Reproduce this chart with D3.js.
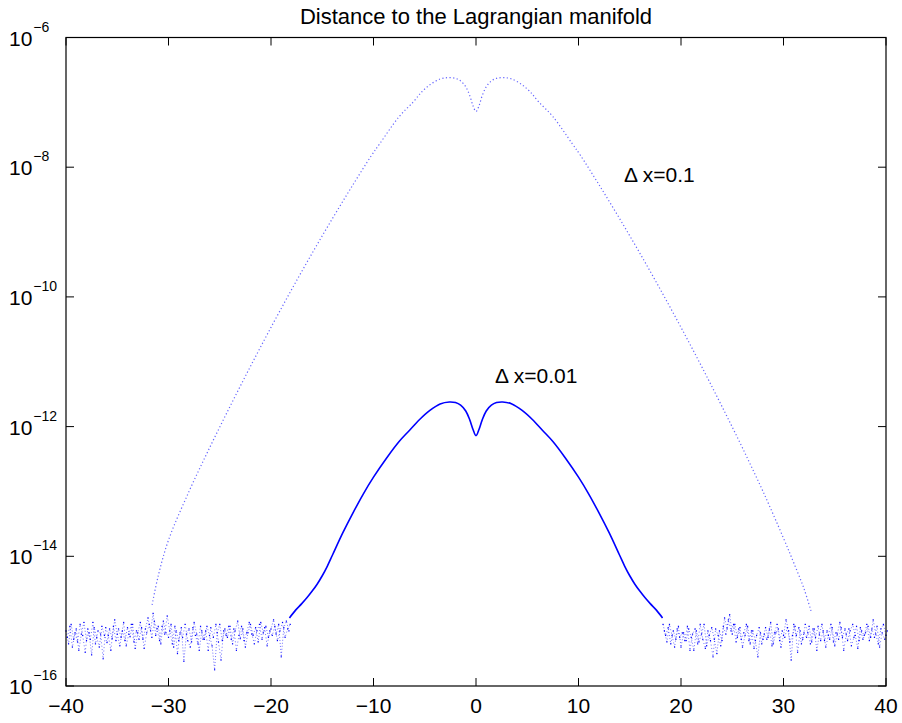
<!DOCTYPE html>
<html>
<head>
	<meta charset="utf-8">
	<title>Distance to the Lagrangian manifold</title>
	<script src="https://d3js.org/d3.v7.min.js"></script>
	<style>
		body { margin: 0; background: #fff; }
		text { font-family: 'Liberation Sans', Arial, sans-serif; fill: #000; }
	</style>
</head>
<body>
	<div class="chart"></div>

	<script type="text/javascript">
		// values are log10 of the distance
		const upperX = [-31.6, -31, -30, -28, -26, -24, -22, -20, -18, -16, -14, -12, -10.2, -9.4, -7.5, -6.1, -5.3, -4.5, -3.5, -2.8, -2, -1.5, -1, -0.6, -0.3, 0,
			0.3, 0.6, 1, 1.5, 2, 2.8, 3.5, 4.5, 5.3, 6.1, 7.5, 9.4, 10.2, 12, 14, 16, 18, 20, 22, 24, 26, 28, 30, 31, 32, 32.7]
		const upperLog = [-14.75, -14.3, -13.75, -13.0, -12.33, -11.69, -11.07, -10.47, -9.89, -9.33, -8.79, -8.27, -7.82, -7.64, -7.22, -6.99, -6.84, -6.73, -6.64, -6.62, -6.63, -6.67, -6.76, -6.9, -7.05, -7.14,
			-7.05, -6.9, -6.76, -6.67, -6.63, -6.62, -6.64, -6.73, -6.84, -6.99, -7.22, -7.64, -7.82, -8.27, -8.79, -9.33, -9.89, -10.47, -11.07, -11.69, -12.33, -13.0, -13.72, -14.1, -14.5, -14.85]

		const lowerX = [-18.2, -17.6, -17, -16.5, -16, -15.5, -15, -14.5, -14, -13, -12, -11, -10, -8.7, -7.5, -6.5, -5.5, -4.5, -3.5, -2.6, -2, -1.5, -1, -0.6, -0.3, 0,
			0.3, 0.6, 1, 1.5, 2, 2.6, 3.5, 4.5, 5.5, 6.5, 7.5, 8.7, 10, 11, 12, 13, 14, 14.5, 15, 15.5, 16, 16.5, 17, 17.6, 18.2]
		const lowerLog = [-14.95, -14.83, -14.73, -14.64, -14.54, -14.43, -14.3, -14.15, -13.98, -13.64, -13.33, -13.04, -12.78, -12.48, -12.23, -12.06, -11.89, -11.75, -11.65, -11.62, -11.63, -11.67, -11.76, -11.9, -12.04, -12.14,
			-12.04, -11.9, -11.76, -11.67, -11.63, -11.62, -11.65, -11.75, -11.89, -12.06, -12.23, -12.48, -12.78, -13.04, -13.33, -13.64, -13.98, -14.15, -14.3, -14.43, -14.54, -14.64, -14.73, -14.83, -14.95]

		// round-off noise floor, two interleaved samples every 0.25 in x
		const noiseStep = 0.25
		const noiseLeftStartA = -40
		const noiseLeftA = [
			-15.15, -15.35, -15.05, -15.28, -15.12, -15.45, -15.20, -15.02,
			-15.30, -15.18, -15.52, -15.10, -15.25, -15.40, -15.08, -15.22,
			-15.33, -15.12, -15.27, -14.98, -15.20, -15.38, -15.15, -15.30,
			-15.10, -15.24, -15.05, -15.42, -15.18, -15.02, -15.28, -15.12,
			-14.95, -15.15, -14.88, -15.22, -15.08, -15.35, -15.00, -15.18,
			-15.25, -15.05, -15.40, -15.15, -15.30, -15.10, -15.62, -15.20,
			-15.12, -15.32, -15.02, -15.20, -15.45, -15.15, -15.28, -15.08,
			-15.22, -15.38, -15.75, -15.18, -15.05, -15.30, -15.12, -15.25,
			-15.08, -15.35, -15.15, -15.00, -15.27, -15.12, -15.40, -15.18,
			-15.05, -15.22, -15.10, -15.32, -15.02, -15.18, -15.08, -15.25,
			-15.12, -14.98, -15.20, -15.05, -15.55, -15.10, -15.00, -15.15]
		const noiseLeftStartB = -39.875
		const noiseLeftB = [
			-15.25, -15.08, -15.40, -15.18, -15.32, -15.05, -15.22, -15.48,
			-15.12, -15.28, -15.02, -15.35, -15.15, -15.20, -15.58, -15.10,
			-15.22, -15.45, -15.08, -15.30, -15.12, -15.25, -15.02, -15.38,
			-15.20, -15.05, -15.32, -15.15, -15.28, -15.10, -15.42, -15.18,
			-15.05, -15.25, -15.00, -15.12, -15.30, -15.08, -15.20, -14.92,
			-15.15, -15.35, -15.08, -15.50, -15.18, -15.25, -15.05, -15.30,
			-15.40, -15.10, -15.22, -15.35, -15.08, -15.28, -15.15, -15.45,
			-15.10, -15.25, -15.05, -15.32, -15.60, -15.15, -15.22, -15.08,
			-15.28, -15.12, -15.45, -15.22, -15.08, -15.30, -15.18, -15.02,
			-15.20, -15.35, -15.15, -15.05, -15.28, -15.10, -15.38, -15.15,
			-15.22, -15.08, -15.30, -15.15, -15.02, -15.25, -15.12, -15.05]
		const noiseRightStartA = 18.25
		const noiseRightA = [
			-15.05, -15.22, -15.10, -15.35, -15.15, -15.28, -15.08, -15.40,
			-15.18, -15.30, -15.12, -15.25, -15.45, -15.15, -15.32, -15.20,
			-15.05, -15.38, -15.22, -15.10, -15.28, -15.50, -15.15, -15.30,
			-14.95, -15.12, -14.90, -15.20, -15.05, -15.25, -15.10, -15.40,
			-15.22, -15.08, -15.35, -15.15, -15.30, -15.55, -15.18, -15.28,
			-15.10, -15.25, -15.02, -15.35, -15.18, -15.12, -15.40, -15.22,
			-14.98, -15.15, -15.60, -15.05, -15.22, -15.10, -15.35, -15.18,
			-15.25, -15.08, -15.32, -15.12, -15.45, -15.20, -15.05, -15.30,
			-15.15, -15.28, -15.10, -15.38, -15.20, -15.02, -15.25, -15.12,
			-15.30, -15.15, -15.05, -15.22, -15.42, -15.10, -15.28, -15.18,
			-15.08, -15.25, -14.98, -15.20, -15.35, -15.12, -15.05, -15.22]
		const noiseRightStartB = 18.375
		const noiseRightB = [
			-15.15, -15.32, -15.05, -15.22, -15.40, -15.12, -15.25, -15.18,
			-15.30, -15.08, -15.45, -15.20, -15.12, -15.35, -15.05, -15.28,
			-15.42, -15.15, -15.30, -15.55, -15.12, -15.22, -15.38, -15.08,
			-15.20, -14.98, -15.15, -15.05, -15.32, -15.12, -15.28, -15.18,
			-15.05, -15.30, -15.15, -15.42, -15.22, -15.10, -15.35, -15.20,
			-15.28, -15.12, -15.38, -15.18, -15.05, -15.30, -15.15, -15.25,
			-15.10, -15.32, -15.22, -15.08, -15.48, -15.15, -15.28, -15.05,
			-15.18, -15.35, -15.12, -15.25, -15.08, -15.30, -15.15, -15.40,
			-15.22, -15.05, -15.32, -15.18, -15.28, -15.10, -15.45, -15.20,
			-15.12, -15.38, -15.25, -15.08, -15.30, -15.15, -15.22, -15.05,
			-15.30, -15.12, -15.25, -15.08, -15.40, -15.18, -15.28, -15.15]

		const xTicks = [-40, -30, -20, -10, 0, 10, 20, 30, 40]
		const yTickExp = [-16, -14, -12, -10, -8, -6]

		const width = 902
		const height = 723
		const margin = { top: 37.5, right: 16, bottom: 37, left: 66 }

		const svg = d3.select('.chart').append('svg')
			.attr('width', width)
			.attr('height', height)

		const xScale = d3.scaleLinear()
			.domain([-40, 40])
			.range([margin.left, width - margin.right])

		const yScale = d3.scaleLog()
			.domain([1e-16, 1e-6])
			.range([height - margin.bottom, margin.top])

		const toPoints = (xs, logs) => xs.map((x, i) => ({ x: x, v: Math.pow(10, logs[i]) }))
		const toNoise = (start, logs) => logs.map((l, i) => ({ x: start + i * noiseStep, v: Math.pow(10, l) }))

		const line = d3.line()
			.x(d => xScale(d.x))
			.y(d => yScale(d.v))
			.curve(d3.curveCatmullRom.alpha(0.5))

		const zig = d3.line()
			.x(d => xScale(d.x))
			.y(d => yScale(d.v))

		const plot = svg.append('g')

		// noise floor
		const noiseSets = [
			toNoise(noiseLeftStartA, noiseLeftA), toNoise(noiseLeftStartB, noiseLeftB),
			toNoise(noiseRightStartA, noiseRightA), toNoise(noiseRightStartB, noiseRightB)
		]
		noiseSets.forEach((pts, k) => {
			plot.append('path')
				.attr('d', zig(pts))
				.attr('fill', 'none')
				.attr('stroke', '#0000ff')
				.attr('stroke-width', 1)
				.attr('stroke-opacity', 0.55)
				.attr('stroke-dasharray', k % 2 ? '1 2.4' : '1 2')
			plot.selectAll(null)
				.data(pts)
				.join('rect')
				.attr('x', d => xScale(d.x) - 0.6)
				.attr('y', d => yScale(d.v) - 0.6)
				.attr('width', 1.2)
				.attr('height', 1.2)
				.attr('fill', '#0000ff')
		})

		// dx = 0.1
		plot.append('path')
			.attr('d', line(toPoints(upperX, upperLog)))
			.attr('fill', 'none')
			.attr('stroke', '#3030ff')
			.attr('stroke-width', 1.2)
			.attr('stroke-opacity', 0.75)
			.attr('stroke-dasharray', '1.2 2.4')

		// dx = 0.01
		plot.append('path')
			.attr('d', line(toPoints(lowerX, lowerLog)))
			.attr('fill', 'none')
			.attr('stroke', '#0000ff')
			.attr('stroke-width', 1.6)

		// frame and ticks
		const x0 = xScale(-40), x1 = xScale(40)
		const y0 = yScale(1e-16), y1 = yScale(1e-6)
		const tickLen = 8

		svg.append('rect')
			.attr('x', x0)
			.attr('y', y1)
			.attr('width', x1 - x0)
			.attr('height', y0 - y1)
			.attr('fill', 'none')
			.attr('stroke', '#000')
			.attr('stroke-width', 1.2)

		const ticks = svg.append('g').attr('stroke', '#000').attr('stroke-width', 1)

		xTicks.forEach(t => {
			ticks.append('line').attr('x1', xScale(t)).attr('x2', xScale(t)).attr('y1', y0).attr('y2', y0 - tickLen)
			ticks.append('line').attr('x1', xScale(t)).attr('x2', xScale(t)).attr('y1', y1).attr('y2', y1 + tickLen)
			svg.append('text')
				.attr('x', xScale(t))
				.attr('y', 713)
				.attr('text-anchor', 'middle')
				.attr('font-size', 21)
				.text(t < 0 ? '\u2212' + Math.abs(t) : t)
		})

		yTickExp.forEach(e => {
			const y = yScale(Math.pow(10, e))
			ticks.append('line').attr('x1', x0).attr('x2', x0 + tickLen).attr('y1', y).attr('y2', y)
			ticks.append('line').attr('x1', x1).attr('x2', x1 - tickLen).attr('y1', y).attr('y2', y)
			const label = svg.append('text')
				.attr('x', 9)
				.attr('y', y + 8)
				.attr('font-size', 21)
			label.append('tspan').text('10')
			label.append('tspan')
				.attr('dy', -14)
				.attr('dx', 1)
				.attr('font-size', 14)
				.text('\u2212' + Math.abs(e))
		})

		svg.append('text')
			.attr('x', (x0 + x1) / 2)
			.attr('y', 24)
			.attr('text-anchor', 'middle')
			.attr('font-size', 22)
			.text('Distance to the Lagrangian manifold')

		svg.append('text')
			.attr('x', 624)
			.attr('y', 182)
			.attr('font-size', 21)
			.text('\u0394 x=0.1')

		svg.append('text')
			.attr('x', 495)
			.attr('y', 383)
			.attr('font-size', 21)
			.text('\u0394 x=0.01')
	</script>
</body>
</html>
